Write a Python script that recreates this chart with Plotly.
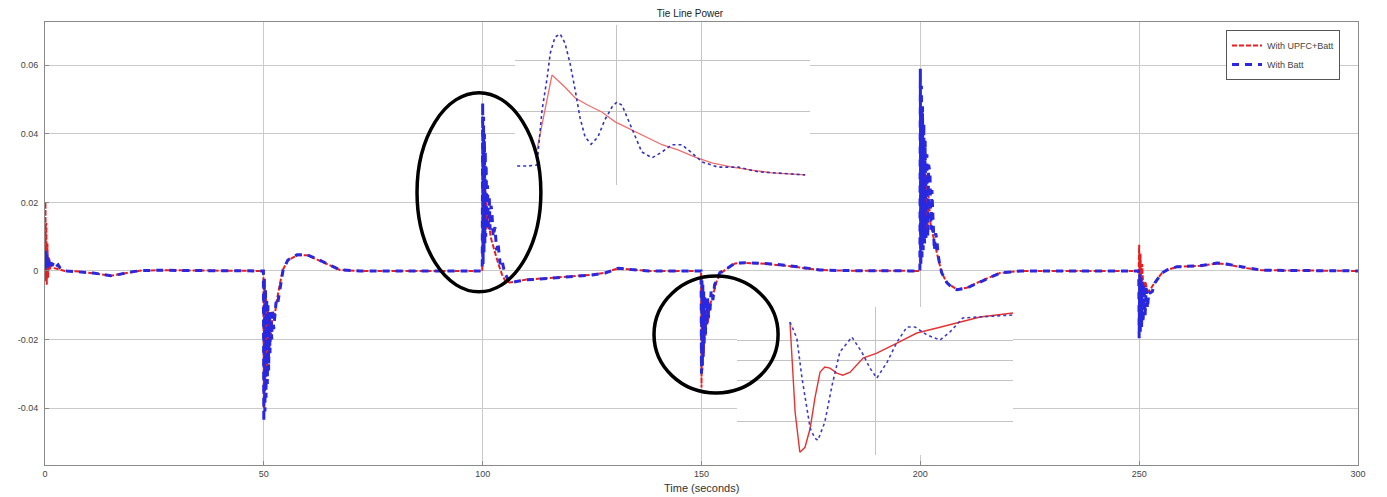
import plotly.graph_objects as go

# ---------------- main series: "With UPFC+Batt" (red) ----------------
R0_T = [0, 0.1, 0.2, 0.3, 0.4, 0.55, 0.7, 0.9, 1.2, 1.6, 2.2, 3.0, 4.5, 8, 11, 13, 15, 17, 19, 22, 26, 35, 45, 49.9]
R0_V = [0, 0.020, -0.003, 0.014, -0.004, 0.008, -0.002, 0.004, 0.0005, 0.002, 0.0008, 0.0005, 0, -0.0002, -0.0006, -0.0010, -0.0014, -0.0010, -0.0004, 0.0001, 0.0002, 0.0001, 0, 0]
R50_T = [49.9, 50.0, 50.15, 50.3, 50.5, 50.7, 50.9, 51.15, 51.4, 51.7, 52.0, 52.4, 52.9, 53.5, 54.3, 55.5, 57.6, 59.9, 63, 67.4, 72, 80, 90, 99.9]
R50_V = [0, -0.040, -0.004, -0.035, -0.008, -0.030, -0.010, -0.025, -0.012, -0.020, -0.012, -0.014, -0.009, -0.005, 0.0002, 0.0031, 0.0046, 0.0046, 0.0029, 0.0003, 0, 0, 0, 0]
R100_T = [99.9, 100.0, 100.1, 100.2, 100.3, 100.4, 100.5, 100.6, 100.7, 100.8, 100.95, 101.1, 101.3, 101.5, 101.8, 102.3, 102.9, 103.6, 104.4, 105.2, 106.2, 108, 110, 115, 120, 125, 128, 131, 134, 138, 145, 149.9]
R100_V = [0, 0.035, 0.004, 0.032, 0.008, 0.028, 0.010, 0.024, 0.012, 0.020, 0.013, 0.016, 0.012, 0.014, 0.010, 0.008, 0.005, 0.002, -0.001, -0.003, -0.0034, -0.003, -0.0025, -0.0021, -0.0017, -0.0011, -0.0005, 0.0008, 0.0004, 0, 0, 0]
R150_T = [149.9, 150.0, 150.1, 150.2, 150.35, 150.5, 150.7, 150.9, 151.2, 151.5, 151.9, 152.4, 153.0, 153.6, 154.3, 155.4, 157.7, 160, 163.4, 166.8, 170.2, 173.5, 177, 182, 190, 199.9]
R150_V = [0, -0.034, -0.004, -0.029, -0.007, -0.024, -0.009, -0.019, -0.010, -0.015, -0.010, -0.008, -0.005, -0.0025, -0.0008, 0.0003, 0.0022, 0.0023, 0.0022, 0.0019, 0.0014, 0.0008, 0.0003, 0.0001, 0, 0]
R200_T = [199.9, 200.0, 200.12, 200.25, 200.4, 200.55, 200.7, 200.9, 201.1, 201.35, 201.6, 201.9, 202.3, 202.8, 203.4, 204.0, 204.9, 206.1, 208.4, 210.6, 213.6, 218.2, 223, 230, 249.9]
R200_V = [0, 0.052, 0.004, 0.046, 0.007, 0.040, 0.009, 0.034, 0.011, 0.028, 0.012, 0.022, 0.014, 0.011, 0.007, 0.004, -0.0006, -0.0035, -0.0054, -0.0049, -0.0031, -0.0006, 0, 0, 0]
R250_T = [249.9, 250.0, 250.15, 250.3, 250.5, 250.7, 251.0, 251.4, 251.9, 252.5, 253.6, 255.2, 256.4, 258.6, 263.9, 267.8, 270, 274, 278, 300]
R250_V = [0, 0.0076, -0.010, 0.005, -0.008, 0.002, -0.007, -0.003, -0.006, -0.0055, -0.0033, -0.0006, 0.0003, 0.0012, 0.0015, 0.0022, 0.0019, 0.0009, 0.0002, 0]

# ---------------- main series: "With Batt" (blue) ----------------
B0_T = [0, 0.15, 0.3, 0.45, 0.6, 0.8, 1.0, 1.3, 1.6, 2.0, 2.5, 3.0, 3.5, 4.2, 5, 8, 11, 13, 15, 17, 19, 22, 26, 35, 45, 49.9]
B0_V = [0, 0.006, 0.001, 0.005, 0.001, 0.004, 0.0015, 0.003, 0.0015, 0.0025, 0.0012, 0.0018, 0.0008, 0.0002, 0, -0.0002, -0.0006, -0.0010, -0.0014, -0.0010, -0.0004, 0.0001, 0.0002, 0.0001, 0, 0]
B50_T = [49.9, 50.0, 50.12, 50.25, 50.38, 50.5, 50.65, 50.8, 50.95, 51.1, 51.25, 51.4, 51.6, 51.8, 52.0, 52.25, 52.5, 52.8, 53.1, 53.7, 54.4, 55.5, 57.6, 59.9, 63, 67.4, 72, 80, 90, 99.9]
B50_V = [0, -0.044, -0.002, -0.041, -0.005, -0.037, -0.008, -0.033, -0.010, -0.029, -0.012, -0.024, -0.012, -0.020, -0.011, -0.017, -0.0123, -0.009, -0.010, -0.0047, 0.0003, 0.0032, 0.0047, 0.0047, 0.003, 0.0003, 0, 0, 0, 0]
B100_T = [99.9, 100.0, 100.1, 100.2, 100.3, 100.4, 100.5, 100.6, 100.7, 100.8, 100.95, 101.1, 101.3, 101.5, 101.7, 101.9, 102.1, 102.4, 102.8, 103.2, 103.5, 104.0, 104.4, 105.0, 105.6, 106.2, 108, 110, 115, 120, 125, 128, 131, 134, 138, 145, 149.9]
B100_V = [0, 0.049, 0.002, 0.045, 0.005, 0.040, 0.008, 0.035, 0.010, 0.031, 0.012, 0.025, 0.013, 0.022, 0.012, 0.019, 0.0175, 0.010, 0.0128, 0.006, 0.0082, 0.002, 0.0032, -0.0005, -0.0018, -0.0035, -0.0030, -0.0026, -0.0022, -0.0018, -0.0012, -0.0006, 0.0008, 0.0004, 0.0, 0, 0]
B150_T = [149.9, 150.0, 150.1, 150.2, 150.3, 150.4, 150.5, 150.6, 150.75, 150.9, 151.05, 151.2, 151.4, 151.6, 151.9, 152.2, 152.6, 153.0, 153.5, 154.2, 155.4, 157.7, 160, 163.4, 166.8, 170.2, 173.5, 177, 182, 190, 199.9]
B150_V = [0, -0.030, -0.002, -0.028, -0.004, -0.025, -0.006, -0.022, -0.007, -0.019, -0.008, -0.016, -0.008, -0.0135, -0.0123, -0.006, -0.0085, -0.004, -0.0026, -0.0005, 0.0003, 0.0023, 0.0024, 0.0023, 0.002, 0.0015, 0.0009, 0.0003, 0.0001, 0, 0]
B200_T = [199.9, 200.0, 200.12, 200.25, 200.38, 200.5, 200.65, 200.8, 200.95, 201.1, 201.3, 201.5, 201.7, 201.9, 202.2, 202.45, 202.65, 202.9, 203.2, 203.5, 203.8, 204.0, 204.4, 204.9, 205.5, 206.1, 207.2, 208.4, 210.6, 213.6, 218.2, 223, 230, 249.9]
B200_V = [0, 0.059, 0.002, 0.054, 0.004, 0.048, 0.006, 0.043, 0.008, 0.038, 0.009, 0.034, 0.010, 0.031, 0.0286, 0.012, 0.0236, 0.0149, 0.006, 0.011, 0.009, 0.0053, 0.002, -0.0006, -0.0022, -0.0035, -0.0048, -0.0055, -0.005, -0.0032, -0.0006, 0, 0, 0]
B250_T = [249.9, 250.0, 250.12, 250.25, 250.4, 250.55, 250.7, 250.9, 251.1, 251.35, 251.6, 251.9, 252.2, 252.5, 253.0, 253.6, 254.4, 255.2, 256.4, 258.6, 263.9, 267.8, 270, 274, 278, 300]
B250_V = [0, -0.0196, -0.001, -0.018, -0.002, -0.0165, -0.003, -0.015, -0.004, -0.013, -0.005, -0.011, -0.006, -0.0064, -0.006, -0.0035, -0.002, -0.0006, 0.0003, 0.0012, 0.0015, 0.0023, 0.002, 0.001, 0.0002, 0]

# ---------------- zoom inset 1 (around t = 100) ----------------
I1_BLUE_T = [101.70, 101.93, 102.16, 102.28, 102.40, 102.47, 102.58, 102.70, 102.81, 102.93, 103.05, 103.16, 103.28, 103.42, 103.58, 103.74, 103.91, 104.02, 104.14, 104.26, 104.40, 104.60, 104.84, 105.07, 105.30, 105.53, 105.77, 106.00, 106.37, 106.84, 107.30, 107.77, 108.40]
I1_BLUE_V = [0.0196, 0.0196, 0.0198, 0.0304, 0.0367, 0.0413, 0.0444, 0.0450, 0.0433, 0.0394, 0.0342, 0.0290, 0.0252, 0.0238, 0.0252, 0.0285, 0.0310, 0.0319, 0.0313, 0.0290, 0.0260, 0.0223, 0.0212, 0.0223, 0.0237, 0.0237, 0.0221, 0.0204, 0.0194, 0.0194, 0.0185, 0.0183, 0.0179]
I1_RED_T = [102.16, 102.35, 102.51, 102.81, 103.05, 103.35, 103.67, 103.98, 104.37, 104.74, 105.07, 105.44, 105.84, 106.23, 106.70, 107.16, 107.63, 108.40]
I1_RED_V = [0.0227, 0.0304, 0.0371, 0.0348, 0.0327, 0.0313, 0.0300, 0.0281, 0.0265, 0.0250, 0.0237, 0.0227, 0.0213, 0.0202, 0.0194, 0.0188, 0.0183, 0.0179]

# ---------------- zoom inset 2 (around t = 150) ----------------
I2_RED_T = [150.00, 150.05, 150.12, 150.23, 150.35, 150.47, 150.58, 150.70, 150.81, 150.93, 151.09, 151.23, 151.40, 151.70, 152.02, 152.49, 152.95, 153.42, 153.88, 154.42, 155.19]
I2_RED_V = [-0.00445, -0.01233, -0.02219, -0.03007, -0.02908, -0.02534, -0.01943, -0.01431, -0.01332, -0.01352, -0.01450, -0.01490, -0.01431, -0.01155, -0.01056, -0.00859, -0.00662, -0.00564, -0.00465, -0.00347, -0.00268]
I2_BLUE_T = [150.00, 150.16, 150.28, 150.42, 150.47, 150.58, 150.65, 150.81, 150.98, 151.16, 151.44, 151.67, 151.86, 152.02, 152.26, 152.49, 152.72, 152.91, 153.19, 153.49, 153.72, 154.02, 154.49, 155.19]
I2_BLUE_V = [-0.00445, -0.00761, -0.01549, -0.02278, -0.02534, -0.02731, -0.02770, -0.02416, -0.01687, -0.01036, -0.00741, -0.01036, -0.01352, -0.01549, -0.01233, -0.00839, -0.00544, -0.00544, -0.00701, -0.00800, -0.00642, -0.00366, -0.00347, -0.00307]

X_TICKS = [0, 50, 100, 150, 200, 250, 300]
Y_TICKS = [-0.04, -0.02, 0, 0.02, 0.04, 0.06]
Y_TICK_TEXT = ["-0.04", "-0.02", "0", "0.02", "0.04", "0.06"]
INSET1_XGRID = [104, 106]
INSET1_YGRID = [0.03, 0.04]
INSET2_XGRID = [152]
INSET2_YGRID = [-0.008, -0.012, -0.016, -0.024]

red_t = R0_T + R50_T + R100_T + R150_T + R200_T + R250_T
red_v = R0_V + R50_V + R100_V + R150_V + R200_V + R250_V
blue_t = B0_T + B50_T + B100_T + B150_T + B200_T + B250_T
blue_v = B0_V + B50_V + B100_V + B150_V + B200_V + B250_V
assert len(red_t) == len(red_v) and len(blue_t) == len(blue_v)
assert len(I1_BLUE_T) == len(I1_BLUE_V) and len(I1_RED_T) == len(I1_RED_V)
assert len(I2_BLUE_T) == len(I2_BLUE_V) and len(I2_RED_T) == len(I2_RED_V)

RED = "rgb(235,30,30)"
BLUE = "rgb(40,40,225)"
GRID = "#cacaca"
AXIS = "#8a8a8a"
FONT = "Liberation Sans"

fig = go.Figure()
fig.add_trace(go.Scatter(x=red_t, y=red_v, mode="lines", name="With UPFC+Batt",
                         line=dict(color=RED, width=2, dash="5px,2px")))
fig.add_trace(go.Scatter(x=blue_t, y=blue_v, mode="lines", name="With Batt",
                         line=dict(color=BLUE, width=3, dash="7px,6px")))

# inset 1
fig.add_trace(go.Scatter(x=I1_RED_T, y=I1_RED_V, mode="lines", xaxis="x2", yaxis="y2", showlegend=False,
                         line=dict(color="rgb(240,110,110)", width=1.3)))
fig.add_trace(go.Scatter(x=I1_BLUE_T, y=I1_BLUE_V, mode="lines", xaxis="x2", yaxis="y2", showlegend=False,
                         line=dict(color="rgb(50,50,190)", width=1.6, dash="dot")))
# inset 2
fig.add_trace(go.Scatter(x=I2_RED_T, y=I2_RED_V, mode="lines", xaxis="x3", yaxis="y3", showlegend=False,
                         line=dict(color="rgb(230,50,50)", width=1.4)))
fig.add_trace(go.Scatter(x=I2_BLUE_T, y=I2_BLUE_V, mode="lines", xaxis="x3", yaxis="y3", showlegend=False,
                         line=dict(color="rgb(60,60,200)", width=1.6, dash="dot")))

inset_axis = dict(showticklabels=False, ticks="", showline=False, zeroline=False,
                  showgrid=True, gridcolor="#c4c4c4", gridwidth=1)

fig.update_layout(
    width=1387, height=497,
    margin=dict(l=45, r=29, t=22, b=32),
    paper_bgcolor="white", plot_bgcolor="white",
    font=dict(family=FONT, size=9, color="#333"),
    title=dict(text="Tie Line Power", x=0.4975, xanchor="center", y=0.972, yanchor="middle",
               font=dict(family=FONT, size=10, color="#222")),
    xaxis=dict(range=[0, 300], tickvals=X_TICKS, showgrid=True, gridcolor=GRID, zeroline=False,
               showline=True, mirror=True, linecolor=AXIS, linewidth=1,
               ticks="inside", ticklen=4, tickcolor=AXIS, tickfont=dict(size=9, color="#444")),
    yaxis=dict(range=[-0.0566, 0.0726], tickvals=Y_TICKS, ticktext=Y_TICK_TEXT, showgrid=True,
               gridcolor=GRID, zeroline=False, showline=True, mirror=True, linecolor=AXIS, linewidth=1,
               ticks="inside", ticklen=4, tickcolor=AXIS, tickfont=dict(size=9, color="#444"),
               ticklabelstandoff=4),
    xaxis2=dict(domain=[0.3580, 0.5826], range=[101.651, 108.512], anchor="y2",
                tickvals=INSET1_XGRID, **inset_axis),
    yaxis2=dict(domain=[0.6321, 0.9932], range=[0.01596, 0.04673], anchor="x2",
                tickvals=INSET1_YGRID, **inset_axis),
    xaxis3=dict(domain=[0.5270, 0.7372], range=[148.767, 155.186], anchor="y3",
                tickvals=INSET2_XGRID, **inset_axis),
    yaxis3=dict(domain=[0.0226, 0.3567], range=[-0.0306, -0.0015], anchor="x3",
                tickvals=INSET2_YGRID, **inset_axis),
    legend=dict(x=0.9863, y=0.982, xanchor="right", yanchor="top", bgcolor="white",
                bordercolor="#555", borderwidth=1, font=dict(size=9, color="#444"),
                tracegroupgap=0, itemwidth=30),
    showlegend=True,
    annotations=[dict(text="Time (seconds)", x=0.5, xref="paper", y=-0.052, yref="paper",
                      showarrow=False, xanchor="center", yanchor="middle",
                      font=dict(family=FONT, size=11, color="#333"))],
    shapes=[
        dict(type="circle", xref="x", yref="y", x0=85.0, x1=113.3, y0=-0.0061, y1=0.052,
             line=dict(color="black", width=3.5), layer="above"),
        dict(type="circle", xref="x", yref="y", x0=139.15, x1=167.5, y0=-0.0356, y1=-0.0015,
             line=dict(color="black", width=3.5), layer="above"),
    ],
)

fig.write_html("out.html")
